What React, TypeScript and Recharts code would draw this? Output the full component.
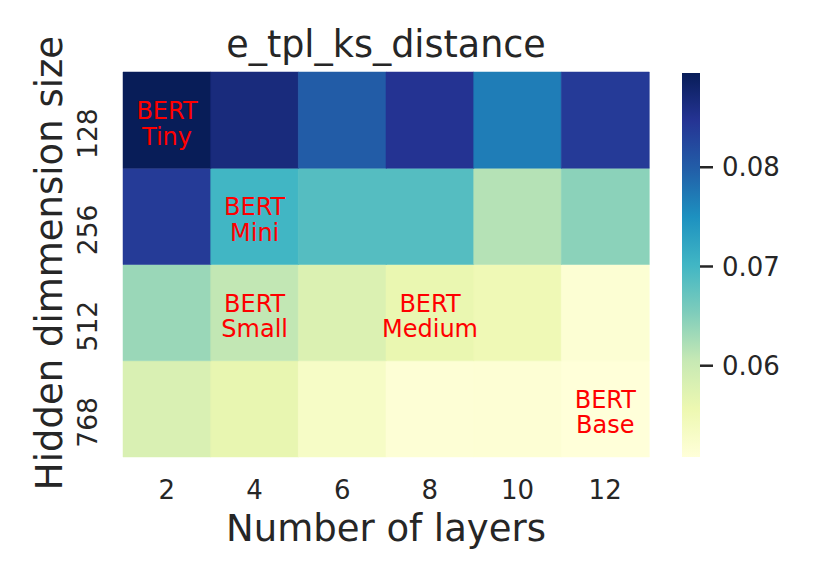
import React from "react";
import { BarChart, Bar, XAxis, YAxis, Cell, LabelList, Label } from "recharts";

const layers = ["2", "4", "6", "8", "10", "12"];
const dims = ["128", "256", "512", "768"];

// ks distance per hidden size (rows), one value per layer count
const ks128 = [0.0895, 0.0866, 0.08, 0.0848, 0.0769, 0.084];
const ks256 = [0.0839, 0.0702, 0.0686, 0.0686, 0.0617, 0.0645];
const ks512 = [0.0635, 0.0608, 0.0579, 0.056, 0.055, 0.0515];
const ks768 = [0.0582, 0.0563, 0.0531, 0.0513, 0.0514, 0.0508];

const scaleMin = 0.0508;
const scaleMax = 0.0895;
const cbarTicks = [0.06, 0.07, 0.08];

// BERT models placed on the grid
const modelDims = ["128", "256", "512", "512", "768"];
const modelLayers = ["2", "4", "4", "8", "12"];
const modelNames = ["Tiny", "Mini", "Small", "Medium", "Base"];

const ylgnbu = ["#ffffd9", "#edf8b1", "#c7e9b4", "#7fcdbb", "#41b6c4", "#1d91c0", "#225ea8", "#253494", "#081d58"];
const ink = "#262626";
const font = "'DejaVu Sans', sans-serif";

const hex = (c: string) => [1, 3, 5].map((i) => parseInt(c.slice(i, i + 2), 16));

const heatColor = (v: number) => {
  const t = Math.min(1, Math.max(0, (v - scaleMin) / (scaleMax - scaleMin)));
  const pos = t * (ylgnbu.length - 1);
  const i = Math.min(ylgnbu.length - 2, Math.floor(pos));
  const f = pos - i;
  const a = hex(ylgnbu[i]);
  const b = hex(ylgnbu[i + 1]);
  const rgb = a.map((x, k) => Math.round(x + (b[k] - x) * f));
  return `rgb(${rgb.join(",")})`;
};

// stacking order: bottom row first
const series = [
  { key: "r768", dim: "768", vals: ks768 },
  { key: "r512", dim: "512", vals: ks512 },
  { key: "r256", dim: "256", vals: ks256 },
  { key: "r128", dim: "128", vals: ks128 },
];

const table = layers.map((layer) => {
  const row: Record<string, string | number> = { layer };
  series.forEach((s) => {
    row[s.key] = 1;
    const k = modelNames.findIndex((_, j) => modelDims[j] === s.dim && modelLayers[j] === layer);
    row[s.key + "Note"] = k >= 0 ? modelNames[k] : "";
  });
  return row;
});

const cbarData = [{ name: "cbar", range: [scaleMin, scaleMax] }];

const XTick = (props: any) => {
  const { x, y, payload } = props;
  return (
    <text x={x} y={y + 41.5} textAnchor="middle" fill={ink} fontSize={26}>
      {payload.value}
    </text>
  );
};

const YTick = (props: any) => {
  const { x, y, payload } = props;
  const label = dims[dims.length - 1 - Math.floor(payload.value)];
  const tx = x - 26.3;
  const ty = y + 13.5;
  return (
    <text x={tx} y={ty} textAnchor="middle" fill={ink} fontSize={26.5} transform={`rotate(-90, ${tx}, ${ty})`}>
      {label}
    </text>
  );
};

const renderNote = (props: any) => {
  const { x, y, width, height, value } = props;
  if (!value) return null;
  const cx = x + width / 2;
  const cy = y + height / 2;
  return (
    <text x={cx} y={cy - 1} textAnchor="middle" fill="#ff0000" fontSize={24}>
      <tspan x={cx}>BERT</tspan>
      <tspan x={cx} dy={25.5}>{value}</tspan>
    </text>
  );
};

export default function App() {
  return (
    <div style={{ position: "absolute", left: 0, top: 0, width: 830, height: 581, background: "#fff", fontFamily: font }}>
      <svg width={830} height={100} style={{ position: "absolute", left: 0, top: 0 }}>
        <text x={386} y={57} textAnchor="middle" fill={ink} fontSize={36.5} fontFamily={font}>
          e_tpl_ks_distance
        </text>
      </svg>
      <div style={{ position: "absolute", left: 0, top: 0 }}>
        <BarChart width={682} height={581} data={table} margin={{ top: 72, right: 33, bottom: 84, left: 83 }} barCategoryGap={0} barGap={0}>
          <XAxis dataKey="layer" height={40} tickSize={0} tickMargin={0} axisLine={false} tickLine={false} interval={0} tick={<XTick />}>
            <Label
              content={(p: any) => {
                const vb = p.viewBox;
                return (
                  <text x={vb.x + vb.width / 2} y={vb.y + 83.5} textAnchor="middle" fill={ink} fontSize={37}>
                    Number of layers
                  </text>
                );
              }}
            />
          </XAxis>
          <YAxis type="number" domain={[0, 4]} ticks={[0.5, 1.5, 2.5, 3.5]} width={40} tickSize={0} tickMargin={0} axisLine={false} tickLine={false} interval={0} tick={<YTick />}>
            <Label
              content={(p: any) => {
                const vb = p.viewBox;
                const tx = vb.x + vb.width - 61.5;
                const ty = vb.y + vb.height / 2 - 1.5;
                return (
                  <text x={tx} y={ty} textAnchor="middle" fill={ink} fontSize={37} transform={`rotate(-90, ${tx}, ${ty})`}>
                    Hidden dimmension size
                  </text>
                );
              }}
            />
          </YAxis>
          {series.map((s) => (
            <Bar key={s.key} dataKey={s.key} stackId="heat" isAnimationActive={false}>
              {s.vals.map((v, i) => (
                <Cell key={i} fill={heatColor(v)} stroke={heatColor(v)} strokeWidth={0.5} />
              ))}
              <LabelList dataKey={s.key + "Note"} content={renderNote} />
            </Bar>
          ))}
        </BarChart>
      </div>
      <div style={{ position: "absolute", left: 682, top: 0 }}>
        <BarChart width={148} height={581} data={cbarData} margin={{ top: 73, right: 30, bottom: 124, left: 0 }} barCategoryGap={0}>
          <defs>
            <linearGradient id="cbarGrad" x1="0" y1="1" x2="0" y2="0">
              {ylgnbu.map((c, i) => (
                <stop key={c} offset={i / (ylgnbu.length - 1)} stopColor={c} />
              ))}
            </linearGradient>
          </defs>
          <XAxis dataKey="name" hide />
          <YAxis
            orientation="right"
            type="number"
            width={100}
            domain={[scaleMin, scaleMax]}
            ticks={cbarTicks}
            axisLine={false}
            tickSize={13}
            tickMargin={9}
            tickLine={{ stroke: ink, strokeWidth: 2.5 }}
            tick={{ fill: ink, fontSize: 26 }}
            tickFormatter={(v: number) => v.toFixed(2)}
            allowDataOverflow
          />
          <Bar dataKey="range" fill="url(#cbarGrad)" isAnimationActive={false} />
        </BarChart>
      </div>
    </div>
  );
}
